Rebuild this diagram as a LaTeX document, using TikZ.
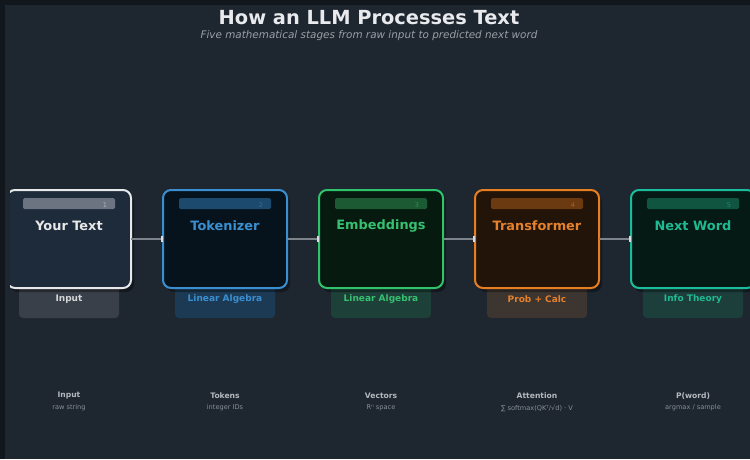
\documentclass[tikz,border=0pt]{standalone}
\usepackage{fontspec}
\setmainfont{DejaVu Sans}
\usetikzlibrary{arrows.meta}

\definecolor{outerbg}{HTML}{12171E}
\definecolor{panelbg}{HTML}{1E2630}
\definecolor{titlefg}{HTML}{E8EAED}
\definecolor{subfg}{HTML}{9AA0A6}
\definecolor{linkgrey}{HTML}{7D848C}
\definecolor{linktip}{HTML}{D8DCE0}
\definecolor{capfg}{HTML}{B4B9BE}
\definecolor{notefg}{HTML}{8A9097}
% stage palettes: border, fill, bar, tab
\definecolor{aBorder}{HTML}{E6E8EA}\definecolor{aFill}{HTML}{1E2B3B}\definecolor{aBar}{HTML}{6B7480}\definecolor{aTab}{HTML}{3A4049}\definecolor{aText}{HTML}{E8E8E8}\definecolor{aTabText}{HTML}{D4D6D8}
\definecolor{bBorder}{HTML}{3A8FD0}\definecolor{bFill}{HTML}{07131C}\definecolor{bBar}{HTML}{1B4A6E}\definecolor{bTab}{HTML}{1D3A55}\definecolor{bText}{HTML}{3A8FD0}\definecolor{bTabText}{HTML}{3A8FD0}
\definecolor{cBorder}{HTML}{2FC36C}\definecolor{cFill}{HTML}{061A10}\definecolor{cBar}{HTML}{1C5A33}\definecolor{cTab}{HTML}{1D4038}\definecolor{cText}{HTML}{36C070}\definecolor{cTabText}{HTML}{36C070}
\definecolor{dBorder}{HTML}{E67E22}\definecolor{dFill}{HTML}{221408}\definecolor{dBar}{HTML}{6B3A10}\definecolor{dTab}{HTML}{3D3530}\definecolor{dText}{HTML}{E5812C}\definecolor{dTabText}{HTML}{E5812C}
\definecolor{eBorder}{HTML}{1ABC9C}\definecolor{eFill}{HTML}{061A15}\definecolor{eBar}{HTML}{0F5540}\definecolor{eTab}{HTML}{1C3F3C}\definecolor{eText}{HTML}{1FBA92}\definecolor{eTabText}{HTML}{1FBA92}

\tikzset{
  stagebox/.style={draw=#1Border, fill=#1Fill, line width=2pt, rounded corners=8pt,
    minimum width=124pt, minimum height=98pt, inner sep=0pt, outer sep=0pt},
  stageshadow/.style={fill=black, fill opacity=0.35, rounded corners=8pt, draw=none},
  stagetitle/.style={font=\bfseries\fontsize{12.9}{14}\selectfont, text=#1Text, anchor=center},
  tablabel/.style={font=\bfseries\fontsize{9}{10}\selectfont, text=#1TabText, anchor=center},
  stagenum/.style={font=\fontsize{6.5}{7}\selectfont, text=#1Border, opacity=0.55, anchor=center},
  caption/.style={font=\bfseries\fontsize{7.6}{8}\selectfont, text=capfg, anchor=center},
  note/.style={font=\fontsize{6.6}{7}\selectfont, text=notefg, anchor=center},
  link/.style={draw=linkgrey, line width=1.8pt,
    -{Rectangle[width=6pt,length=2.2pt,color=linktip]}},
}

\begin{document}
\begin{tikzpicture}[x=1pt,y=-1pt]
\useasboundingbox (0,0) rectangle (750,459);
\clip (0,0) rectangle (750,459);
% frame and panel
\fill[outerbg] (0,0) rectangle (750,459);
\fill[panelbg] (5,5) rectangle (750,459);

% heading
\node[font=\bfseries\fontsize{19.4}{21}\selectfont, text=titlefg] (title) at (369,18) {How an LLM Processes Text};
\node[font=\itshape\fontsize{10.4}{11}\selectfont, text=subfg] (subtitle) at (369,35.5) {Five mathematical stages from raw input to predicted next word};

% stages: key / centre x / title / tab label / number
\begin{scope}
\clip (10,0) rectangle (750,459);
\foreach \k/\cx/\ttl/\tab/\n in {
    a/69/Your Text/Input/1,
    b/225/Tokenizer/Linear Algebra/2,
    c/381/Embeddings/Linear Algebra/3,
    d/537/Transformer/Prob + Calc/4,
    e/693/Next Word/Info Theory/5} {
  % tab under the card
  \fill[\k Tab, rounded corners=4pt] (\cx-50,270) rectangle (\cx+50,318);
  \node[tablabel=\k] (tab\k) at (\cx,299.5) {\tab};
  % card with drop shadow
  \fill[stageshadow] (\cx-59,194) rectangle (\cx+65,292);
  \node[stagebox=\k] (box\k) at (\cx,239) {};
  \fill[\k Bar, rounded corners=1.5pt] (\cx-46,198) rectangle (\cx+46,209);
  \node[stagenum=\k] (num\k) at (\cx+36,205.5) {\n};
  \node[stagetitle=\k] (ttl\k) at (\cx,226) {\ttl};
}
\end{scope}

% connectors between cards
\draw[link] (boxa.east) -- (boxb.west);
\draw[link] (boxb.east) -- (boxc.west);
\draw[link] (boxc.east) -- (boxd.west);
\draw[link] (boxd.east) -- (boxe.west);

% captions along the bottom
\node[caption] (capa) at (69,396) {Input};
\node[note] (nota) at (69,408) {raw string};
\node[caption] (capb) at (225,396) {Tokens};
\node[note] (notb) at (225,408) {integer IDs};
\node[caption] (capc) at (381,396) {Vectors};
\node[note] (notc) at (381,408) {Rⁿ space};
\node[caption] (capd) at (537,396) {Attention};
\node[note] (notd) at (537,408) {∑ softmax(QKᵀ/√d) · V};
\node[caption] (cape) at (693,396) {P(word)};
\node[note] (note) at (693,408) {argmax / sample};
\end{tikzpicture}
\end{document}
